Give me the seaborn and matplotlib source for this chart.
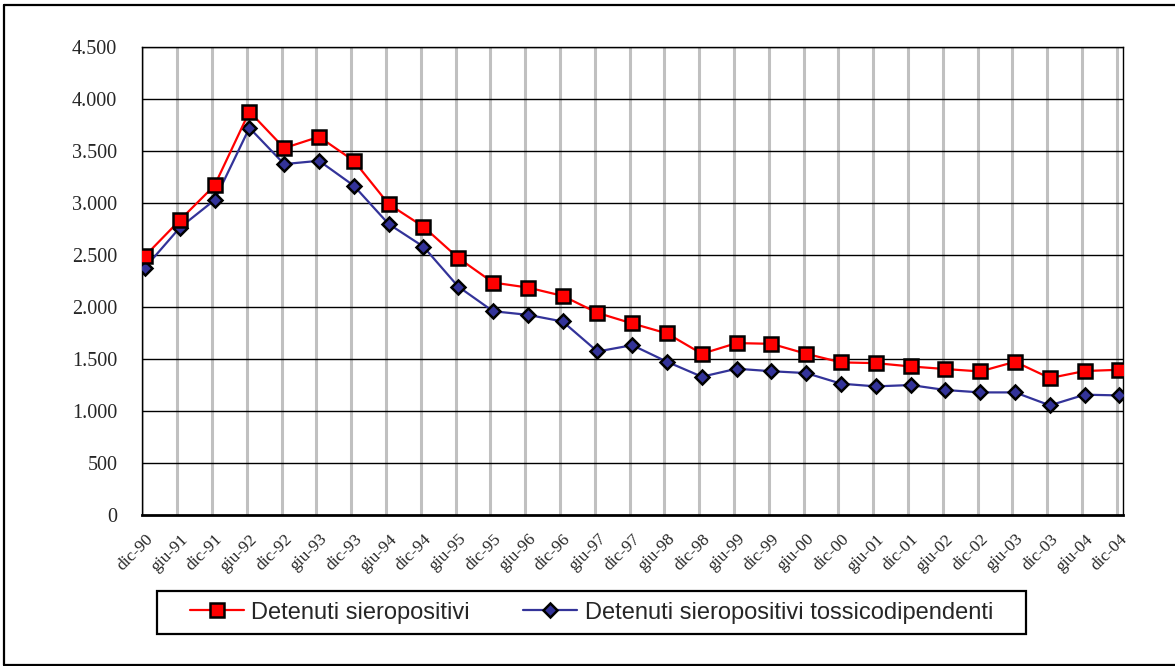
import matplotlib
matplotlib.use("Agg")
import matplotlib.pyplot as plt
from matplotlib.patches import Rectangle
from matplotlib.lines import Line2D
from matplotlib.ticker import FixedLocator
import matplotlib.transforms as mtransforms
import seaborn as sns
import pandas as pd

# ---- data ----
periods = ["dic-90", "giu-91", "dic-91", "giu-92", "dic-92", "giu-93", "dic-93",
           "giu-94", "dic-94", "giu-95", "dic-95", "giu-96", "dic-96", "giu-97",
           "dic-97", "giu-98", "dic-98", "giu-99", "dic-99", "giu-00", "dic-00",
           "giu-01", "dic-01", "giu-02", "dic-02", "giu-03", "dic-03", "giu-04",
           "dic-04"]
sieropositivi = [2490, 2835, 3170, 3881, 3529, 3638, 3407, 2990, 2772, 2471,
                 2234, 2186, 2106, 1942, 1840, 1744, 1548, 1651, 1644, 1548,
                 1465, 1458, 1426, 1401, 1378, 1471, 1314, 1382, 1394]
tossicodipendenti = [2378, 2763, 3029, 3724, 3375, 3407, 3167, 2798, 2580, 2195,
                     1958, 1923, 1859, 1570, 1631, 1471, 1327, 1404, 1380, 1362,
                     1260, 1234, 1247, 1199, 1176, 1176, 1051, 1154, 1147]
series_names = ["Detenuti sieropositivi", "Detenuti sieropositivi tossicodipendenti"]
y_ticks = [0, 500, 1000, 1500, 2000, 2500, 3000, 3500, 4000, 4500]
y_tick_labels = ["0", "500", "1.000", "1.500", "2.000", "2.500", "3.000",
                 "3.500", "4.000", "4.500"]

W, H = 1175, 666
pos = list(range(len(periods)))
df = pd.DataFrame({"pos": pos, "s1": sieropositivi, "s2": tossicodipendenti})

sns.set_style("white")
fig = plt.figure(figsize=(W / 100, H / 100), dpi=100)
ax_left, ax_right, ax_top, ax_bottom = 142.3, 1123.3, 47.3, 514.5
ax = fig.add_axes([ax_left / W, 1 - ax_bottom / H,
                   (ax_right - ax_left) / W, (ax_bottom - ax_top) / H])

off = 0.078  # category gridlines sit slightly left of the points
# grid
for p in pos:
    ax.axvline(p - off, color="#c0c0c0", lw=2.2, zorder=0)
for yt in y_ticks[1:]:
    ax.axhline(yt, color="black", lw=1.0, zorder=0.5)

sns.lineplot(data=df, x="pos", y="s1", ax=ax, color="#ff0000", lw=1.6,
             marker="s", markersize=10, markerfacecolor="#ff0000",
             markeredgecolor="black", markeredgewidth=1.8,
             label=series_names[0], zorder=4)
sns.lineplot(data=df, x="pos", y="s2", ax=ax, color="#333399", lw=1.6,
             marker="D", markersize=7.5, markerfacecolor="#333399",
             markeredgecolor="black", markeredgewidth=1.8,
             label=series_names[1], zorder=3)

ax.set_xlim(-off, 28.11)
ax.set_ylim(0, 4500)
ax.set_xlabel("")
ax.set_ylabel("")
ax.set_yticks(y_ticks)
ax.set_yticklabels(y_tick_labels, fontfamily="Liberation Serif", fontsize=14.5)
ax.set_xticks(pos)
ax.set_xticklabels(periods, rotation=45, ha="right", va="top",
                   rotation_mode="anchor",
                   fontfamily="Liberation Serif", fontsize=12.5)
shift = mtransforms.ScaledTranslation(-4 / 72, 0, fig.dpi_scale_trans)
for lab in ax.get_xticklabels():
    lab.set_transform(lab.get_transform() + shift)
ax.tick_params(axis="x", which="major", length=0, pad=12)
ax.xaxis.set_minor_locator(FixedLocator([p - off for p in pos] +
                                        [p - off + 0.5 for p in pos]))
ax.tick_params(axis="x", which="minor", direction="in", length=4, width=1,
               color="black")
ax.tick_params(axis="y", length=0, pad=18)
for side in ["left", "bottom", "top", "right"]:
    ax.spines[side].set_visible(True)
    ax.spines[side].set_color("black")
ax.spines["bottom"].set_linewidth(2)
ax.spines["left"].set_linewidth(1)
ax.spines["top"].set_linewidth(1)
ax.spines["right"].set_linewidth(1)

ax.get_legend().remove()
handles, labels = ax.get_legend_handles_labels()
leg = fig.legend(handles, labels, loc="center", ncol=2,
                 bbox_to_anchor=(591.5 / W, 1 - 612.5 / H),
                 prop={"family": "Liberation Sans", "size": 17},
                 frameon=False,
                 handlelength=2.3, columnspacing=2.25, handletextpad=0.3,
                 borderpad=0.3)
# legend box
fig.patches.append(Rectangle((157 / W, 1 - 634 / H), 869 / W, 43 / H,
                             transform=fig.transFigure, fill=False,
                             edgecolor="black", lw=1.6))

# outer chart border (left, top, bottom; right edge is off the image)
for xs, ys in [((3.5, 3.5), (4.5, 665)), ((3.5, 1200), (4.5, 4.5)),
               ((3.5, 1200), (665, 665))]:
    fig.lines.append(Line2D([x / W for x in xs], [1 - y / H for y in ys],
                            transform=fig.transFigure, color="black", lw=1.6))

fig.savefig("out.png", dpi=100)
